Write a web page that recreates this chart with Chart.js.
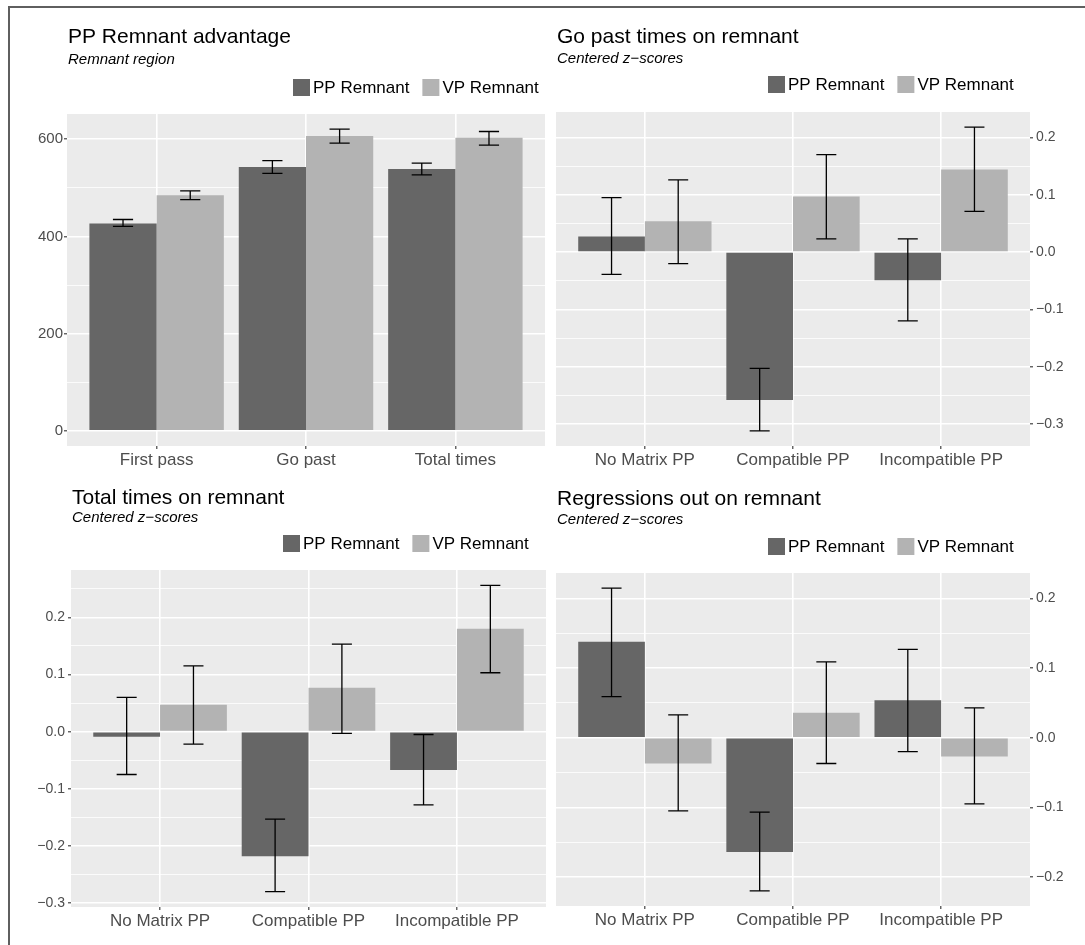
<!DOCTYPE html>
<html>
<head>
<meta charset="utf-8">
<script src="https://cdn.jsdelivr.net/npm/chart.js@4.4.1/dist/chart.umd.min.js"></script>
<style>
  body { margin: 0; background: #fff; width: 1085px; height: 945px; position: relative; overflow: hidden; }
  .moldura { position: absolute; left: 8px; top: 6px; right: 0; bottom: 0; border-top: 2px solid #5f5f5f; border-left: 2px solid #5f5f5f; }
  canvas { position: absolute; }
</style>
</head>
<body>
<div class="moldura"></div>
<canvas id="p1" width="538" height="462" style="left:10px;top:8px"></canvas>
<canvas id="p2" width="537" height="462" style="left:548px;top:8px"></canvas>
<canvas id="p3" width="538" height="475" style="left:10px;top:470px"></canvas>
<canvas id="p4" width="537" height="475" style="left:548px;top:470px"></canvas>
<script>
// dados
const grupos = ['PP Remnant', 'VP Remnant'];
const medidas = ['First pass', 'Go past', 'Total times'];
const condicoes = ['No Matrix PP', 'Compatible PP', 'Incompatible PP'];

// PP Remnant advantage (ms)
const vantPP = [427, 543, 539];
const vantPPBaixo = [421, 530, 527];
const vantPPAlto = [435, 556, 551];
const vantVP = [485, 607, 603];
const vantVPBaixo = [476, 592, 588];
const vantVPAlto = [494, 621, 616];
const vantMarcas = [0, 200, 400, 600];

// Go past times (z)
const goPP = [0.027, -0.258, -0.049];
const goPPBaixo = [-0.039, -0.312, -0.120];
const goPPAlto = [0.095, -0.203, 0.023];
const goVP = [0.054, 0.097, 0.144];
const goVPBaixo = [-0.020, 0.023, 0.071];
const goVPAlto = [0.126, 0.170, 0.218];

// Total times (z)
const totPP = [-0.009, -0.218, -0.067];
const totPPBaixo = [-0.075, -0.280, -0.128];
const totPPAlto = [0.060, -0.153, -0.005];
const totVP = [0.047, 0.077, 0.180];
const totVPBaixo = [-0.022, -0.003, 0.103];
const totVPAlto = [0.115, 0.153, 0.256];

// Regressions out (z)
const regPP = [0.138, -0.164, 0.054];
const regPPBaixo = [0.059, -0.220, -0.020];
const regPPAlto = [0.215, -0.107, 0.127];
const regVP = [-0.037, 0.036, -0.027];
const regVPBaixo = [-0.105, -0.037, -0.095];
const regVPAlto = [0.033, 0.109, 0.043];

const zMarcas3 = [-0.3, -0.2, -0.1, 0, 0.1, 0.2];
const zMarcas2 = [-0.2, -0.1, 0, 0.1, 0.2];

const FONTE = "'Liberation Sans', Arial, Helvetica, sans-serif";
const COR_PP = '#666666';
const COR_VP = '#b3b3b3';
Chart.defaults.font.family = FONTE;
Chart.defaults.animation = false;

function formatoZ(v) {
  return (v < -1e-9 ? '\u2212' : '') + Math.abs(v).toFixed(1);
}

// fundo cinza do painel
const fundoPainel = {
  id: 'fundoPainel',
  beforeDraw(chart) {
    const a = chart.chartArea;
    const ctx = chart.ctx;
    ctx.save();
    ctx.fillStyle = '#ebebeb';
    ctx.fillRect(a.left, a.top, a.right - a.left, a.bottom - a.top);
    ctx.restore();
  },
};

// barras de erro
const barrasErro = {
  id: 'barrasErro',
  afterDatasetsDraw(chart) {
    const ctx = chart.ctx;
    const y = chart.scales.y;
    ctx.save();
    ctx.strokeStyle = '#000';
    ctx.lineWidth = 1.3;
    chart.data.datasets.forEach((ds, i) => {
      chart.getDatasetMeta(i).data.forEach((barra, j) => {
        const x = barra.x;
        const meia = barra.width * 0.15;
        const y1 = y.getPixelForValue(ds.baixo[j]);
        const y2 = y.getPixelForValue(ds.alto[j]);
        ctx.beginPath();
        ctx.moveTo(x, y1); ctx.lineTo(x, y2);
        ctx.moveTo(x - meia, y1); ctx.lineTo(x + meia, y1);
        ctx.moveTo(x - meia, y2); ctx.lineTo(x + meia, y2);
        ctx.stroke();
      });
    });
    ctx.restore();
  },
};

// título, subtítulo e legenda
const textosPainel = {
  id: 'textosPainel',
  afterDraw(chart, args, o) {
    const ctx = chart.ctx;
    ctx.save();
    ctx.fillStyle = '#000';
    ctx.textAlign = 'left';
    ctx.textBaseline = 'alphabetic';
    ctx.font = '21px ' + FONTE;
    ctx.fillText(o.titulo, o.x, o.tituloY);
    ctx.font = 'italic 15px ' + FONTE;
    ctx.fillText(o.subtitulo, o.x, o.subY);
    ctx.font = '17px ' + FONTE;
    ctx.textBaseline = 'middle';
    let lx = o.legX;
    chart.data.datasets.forEach((ds) => {
      ctx.fillStyle = ds.backgroundColor;
      ctx.fillRect(lx, o.legY, 17, 17);
      ctx.fillStyle = '#000';
      ctx.fillText(ds.label, lx + 20, o.legY + 9);
      lx += 20 + ctx.measureText(ds.label).width + 13;
    });
    ctx.restore();
  },
};

function criarPainel(id, cfg) {
  const todos = [0].concat(cfg.pp, cfg.vp, cfg.ppBaixo, cfg.ppAlto, cfg.vpBaixo, cfg.vpAlto);
  let yMin = Math.min(...todos);
  let yMax = Math.max(...todos);
  const faixa = yMax - yMin;
  yMin -= faixa * 0.05;
  yMax += faixa * 0.05;

  // linhas menores no meio das principais
  const passo = cfg.marcas[1] - cfg.marcas[0];
  const menores = [cfg.marcas[0] - passo / 2];
  cfg.marcas.forEach((m) => menores.push(m + passo / 2));

  new Chart(document.getElementById(id), {
    type: 'bar',
    data: {
      datasets: [
        {
          label: grupos[0],
          data: cfg.pp.map((v, i) => ({ x: i, y: v })),
          baixo: cfg.ppBaixo,
          alto: cfg.ppAlto,
          backgroundColor: COR_PP,
        },
        {
          label: grupos[1],
          data: cfg.vp.map((v, i) => ({ x: i, y: v })),
          baixo: cfg.vpBaixo,
          alto: cfg.vpAlto,
          backgroundColor: COR_VP,
        },
      ],
    },
    options: {
      responsive: false,
      animation: false,
      layout: { padding: cfg.padding },
      datasets: { bar: { categoryPercentage: 0.9, barPercentage: 1, borderWidth: 0 } },
      scales: {
        x: {
          type: 'linear',
          min: -0.6,
          max: 2.6,
          offset: false,
          afterBuildTicks: (s) => {
            s.ticks = cfg.categorias.map((c, i) => ({ value: i }));
          },
          afterFit: (s) => {
            s.height = cfg.xAltura;
          },
          ticks: {
            callback: (v) => cfg.categorias[Math.round(v)],
            font: { size: 17 },
            color: '#4d4d4d',
            padding: 1,
            maxRotation: 0,
            autoSkip: false,
          },
          grid: { offset: false, color: '#ffffff', lineWidth: 1.6, tickColor: '#333333', tickLength: 3, tickWidth: 1.1 },
          border: { display: false },
        },
        y: {
          type: 'linear',
          position: cfg.lado,
          min: yMin,
          max: yMax,
          afterBuildTicks: (s) => {
            const lista = cfg.marcas.map((m) => ({ value: m, menor: false }));
            menores.forEach((m) => {
              if (m > yMin && m < yMax) lista.push({ value: m, menor: true });
            });
            lista.sort((a, b) => a.value - b.value);
            s.ticks = lista;
          },
          afterFit: (s) => {
            s.width = cfg.yLargura;
          },
          ticks: {
            callback: (v, i, t) => (t[i].menor ? '' : cfg.formato(v)),
            font: { size: cfg.yFonte },
            color: '#4d4d4d',
            padding: cfg.yPad,
            autoSkip: false,
          },
          grid: {
            color: '#ffffff',
            lineWidth: (c) => (c.tick && c.tick.menor ? 0.8 : 1.6),
            tickColor: (c) => (c.tick && c.tick.menor ? 'rgba(0,0,0,0)' : '#333333'),
            tickLength: 3,
            tickWidth: 1.1,
          },
          border: { display: false },
        },
      },
      plugins: {
        legend: { display: false },
        tooltip: { enabled: false },
        textosPainel: cfg.textos,
      },
    },
    plugins: [fundoPainel, barrasErro, textosPainel],
  });
}

criarPainel('p1', {
  categorias: medidas,
  pp: vantPP, ppBaixo: vantPPBaixo, ppAlto: vantPPAlto,
  vp: vantVP, vpBaixo: vantVPBaixo, vpAlto: vantVPAlto,
  marcas: vantMarcas,
  formato: (v) => String(Math.round(v)),
  lado: 'left', yLargura: 57, yFonte: 15, yPad: 1, xAltura: 24,
  padding: { left: 0, top: 106, right: 3, bottom: 0 },
  textos: { titulo: 'PP Remnant advantage', subtitulo: 'Remnant region', x: 58, tituloY: 35, subY: 56, legX: 283, legY: 71 },
});

criarPainel('p2', {
  categorias: condicoes,
  pp: goPP, ppBaixo: goPPBaixo, ppAlto: goPPAlto,
  vp: goVP, vpBaixo: goVPBaixo, vpAlto: goVPAlto,
  marcas: zMarcas3,
  formato: formatoZ,
  lado: 'right', yLargura: 55, yFonte: 14, yPad: 3, xAltura: 24,
  padding: { left: 8, top: 104, right: 0, bottom: 0 },
  textos: { titulo: 'Go past times on remnant', subtitulo: 'Centered z\u2212scores', x: 9, tituloY: 35, subY: 55, legX: 220, legY: 68 },
});

criarPainel('p3', {
  categorias: condicoes,
  pp: totPP, ppBaixo: totPPBaixo, ppAlto: totPPAlto,
  vp: totVP, vpBaixo: totVPBaixo, vpAlto: totVPAlto,
  marcas: zMarcas3,
  formato: formatoZ,
  lado: 'left', yLargura: 61, yFonte: 14, yPad: 3, xAltura: 38,
  padding: { left: 0, top: 100, right: 2, bottom: 0 },
  textos: { titulo: 'Total times on remnant', subtitulo: 'Centered z\u2212scores', x: 62, tituloY: 34, subY: 52, legX: 273, legY: 65 },
});

criarPainel('p4', {
  categorias: condicoes,
  pp: regPP, ppBaixo: regPPBaixo, ppAlto: regPPAlto,
  vp: regVP, vpBaixo: regVPBaixo, vpAlto: regVPAlto,
  marcas: zMarcas2,
  formato: formatoZ,
  lado: 'right', yLargura: 55, yFonte: 14, yPad: 3, xAltura: 39,
  padding: { left: 8, top: 103, right: 0, bottom: 0 },
  textos: { titulo: 'Regressions out on remnant', subtitulo: 'Centered z\u2212scores', x: 9, tituloY: 35, subY: 54, legX: 220, legY: 68 },
});
</script>
</body>
</html>
